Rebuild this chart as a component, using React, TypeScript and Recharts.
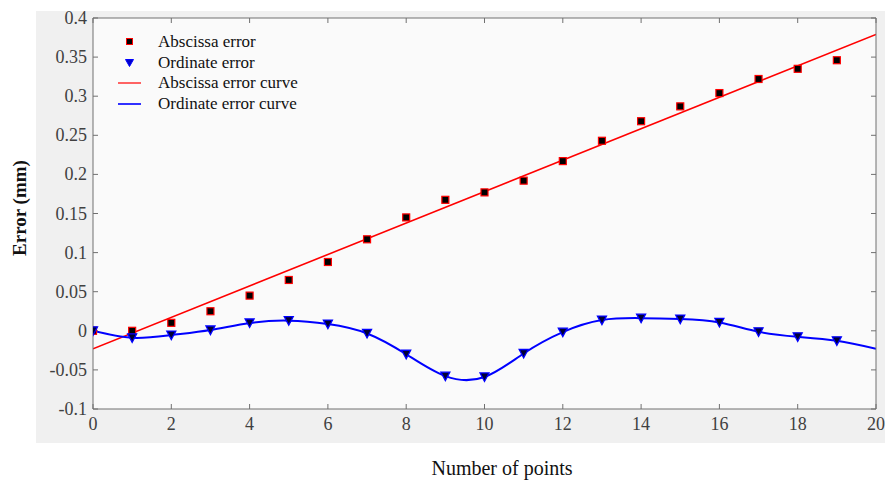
import React from 'react';
import { ComposedChart, Line, Scatter, XAxis, YAxis, CartesianGrid } from 'recharts';

const pointIndex = [0, 1, 2, 3, 4, 5, 6, 7, 8, 9, 10, 11, 12, 13, 14, 15, 16, 17, 18, 19];
const abscissaError = [0, 0, 0.0102, 0.025, 0.045, 0.065, 0.088, 0.117, 0.145, 0.1675, 0.177, 0.192, 0.217, 0.243, 0.268, 0.287, 0.304, 0.322, 0.335, 0.346];
const ordinateError = [0, -0.009, -0.0055, 0.001, 0.010, 0.013, 0.0086, -0.0034, -0.030, -0.058, -0.059, -0.029, -0.0017, 0.0137, 0.0162, 0.015, 0.0107, -0.0013, -0.0077, -0.0128];
const curveX = [0, 1, 2, 3, 4, 5, 6, 7, 8, 9, 10, 11, 12, 13, 14, 15, 16, 17, 18, 19, 20];
const ordinateCurveY = [0, -0.009, -0.0055, 0.001, 0.010, 0.013, 0.0086, -0.0034, -0.030, -0.058, -0.059, -0.029, -0.0017, 0.0137, 0.0162, 0.015, 0.0107, -0.0013, -0.0077, -0.0128, -0.023];
const abscissaFitX = [0, 20];
const abscissaFitY = [-0.023, 0.379];
const xTicks = [0, 2, 4, 6, 8, 10, 12, 14, 16, 18, 20];
const yTicks = [-0.1, -0.05, 0, 0.05, 0.1, 0.15, 0.2, 0.25, 0.3, 0.35, 0.4];
const legendNames = ['Abscissa error', 'Ordinate error', 'Abscissa error curve', 'Ordinate error curve'];

const absPoints = pointIndex.map((x, i) => ({ x, y: abscissaError[i] }));
const ordPoints = pointIndex.map((x, i) => ({ x, y: ordinateError[i] }));
const ordCurve = curveX.map((x, i) => ({ x, y: ordinateCurveY[i] }));
const absCurve = abscissaFitX.map((x, i) => ({ x, y: abscissaFitY[i] }));

const FONT = '"Liberation Serif", "Times New Roman", serif';
const AXIS = '#707070';
const TICKTXT = '#404040';

const SquareShape = (props: any) => {
  const { cx, cy } = props;
  if (cx == null || cy == null) return null;
  return <rect x={cx - 3.5} y={cy - 3.5} width={7} height={7} fill="#000" stroke="#ff0000" strokeWidth={1.2} />;
};

const TriShape = (props: any) => {
  const { cx, cy } = props;
  if (cx == null || cy == null) return null;
  return <path d={`M${cx - 4.5},${cy - 4} L${cx + 4.5},${cy - 4} L${cx},${cy + 4.5} Z`} fill="#000033" stroke="#0000ff" strokeWidth={1.3} />;
};

const TickLabel = (props: any) => {
  const { x, y, payload, textAnchor, orientation } = props;
  const isY = orientation === 'left';
  return (
    <text
      x={x}
      y={y}
      textAnchor={textAnchor}
      dominantBaseline={isY ? 'central' : 'hanging'}
      fontFamily={FONT}
      fontSize={18}
      fill={TICKTXT}
      style={{ fontFamily: FONT }}
    >
      {String(payload.value)}
    </text>
  );
};

const NoTick = () => <g />;

const legendKinds = ['square', 'tri', 'redline', 'blueline'];

const LegendBox = () => (
  <div style={{ position: 'absolute', left: 110, top: 32, fontFamily: FONT, fontSize: 17, color: '#111' }}>
    {legendNames.map((name, i) => {
      const kind = legendKinds[i];
      return (
        <div key={name} style={{ display: 'flex', alignItems: 'center', height: 20.5 }}>
          <svg width={40} height={20} style={{ display: 'block' }}>
            {kind === 'square' && <rect x={16.5} y={6.5} width={6} height={6} fill="#000" stroke="#ff0000" strokeWidth={1} />}
            {kind === 'tri' && <path d="M15.5,6.5 L23.5,6.5 L19.5,13.5 Z" fill="#0000cc" stroke="#0000ff" strokeWidth={1} />}
            {kind === 'redline' && <line x1={8} x2={31} y1={10} y2={10} stroke="#ff3030" strokeWidth={1.5} />}
            {kind === 'blueline' && <line x1={8} x2={31} y1={10} y2={10} stroke="#3030ff" strokeWidth={2} />}
          </svg>
          <span style={{ marginLeft: 8, lineHeight: '20px' }}>{name}</span>
        </div>
      );
    })}
  </div>
);

export default function App() {
  return (
    <div style={{ position: 'absolute', left: 0, top: 0, width: 885, height: 480, background: '#ffffff', overflow: 'hidden' }}>
      <div style={{ position: 'absolute', left: 36, top: 11, width: 849, height: 432, background: '#f0f0f0' }} />
      <div style={{ position: 'absolute', left: 0, top: 0 }}>
        <ComposedChart width={885} height={480} margin={{ top: 17, right: 8, left: 36, bottom: 37 }} style={{ fontFamily: FONT }}>
          <CartesianGrid horizontal={false} vertical={false} fill="#fafafa" xAxisId="b" yAxisId="l" />
          <XAxis
            xAxisId="b"
            type="number"
            dataKey="x"
            domain={[0, 20]}
            ticks={xTicks}
            height={34}
            stroke={AXIS}
            tickSize={-5}
            tickMargin={13}
            tick={<TickLabel />}
            allowDataOverflow
          />
          <XAxis
            xAxisId="t"
            orientation="top"
            type="number"
            dataKey="x"
            domain={[0, 20]}
            ticks={xTicks}
            height={1}
            stroke={AXIS}
            tickSize={-5}
            tick={NoTick}
            allowDataOverflow
          />
          <YAxis
            yAxisId="l"
            type="number"
            domain={[-0.1, 0.4]}
            ticks={yTicks}
            width={57}
            stroke={AXIS}
            tickSize={-5}
            tickMargin={11}
            tick={<TickLabel />}
            allowDataOverflow
          />
          <YAxis
            yAxisId="r"
            orientation="right"
            type="number"
            domain={[-0.1, 0.4]}
            ticks={yTicks}
            width={1}
            stroke={AXIS}
            tickSize={-5}
            tick={NoTick}
            allowDataOverflow
          />
          <Line xAxisId="b" yAxisId="l" data={absCurve} dataKey="y" type="linear" stroke="#ff0000" strokeWidth={1.6} dot={false} isAnimationActive={false} />
          <Line xAxisId="b" yAxisId="l" data={ordCurve} dataKey="y" type="natural" stroke="#0000ff" strokeWidth={2} dot={false} isAnimationActive={false} />
          <Scatter xAxisId="b" yAxisId="l" data={absPoints} dataKey="y" shape={SquareShape} isAnimationActive={false} />
          <Scatter xAxisId="b" yAxisId="l" data={ordPoints} dataKey="y" shape={TriShape} isAnimationActive={false} />
          <Line xAxisId="t" yAxisId="r" data={absCurve} dataKey="y" stroke="none" dot={false} isAnimationActive={false} />
        </ComposedChart>
      </div>
      <LegendBox />
      <div style={{ position: 'absolute', left: 502, top: 468, transform: 'translate(-50%, -50%)', fontFamily: FONT, fontSize: 20, color: '#111', whiteSpace: 'nowrap' }}>
        Number of points
      </div>
      <div style={{ position: 'absolute', left: 20, top: 208, transform: 'translate(-50%, -50%) rotate(-90deg)', fontFamily: FONT, fontSize: 19, fontWeight: 'bold', color: '#111', whiteSpace: 'nowrap' }}>
        Error (mm)
      </div>
    </div>
  );
}
